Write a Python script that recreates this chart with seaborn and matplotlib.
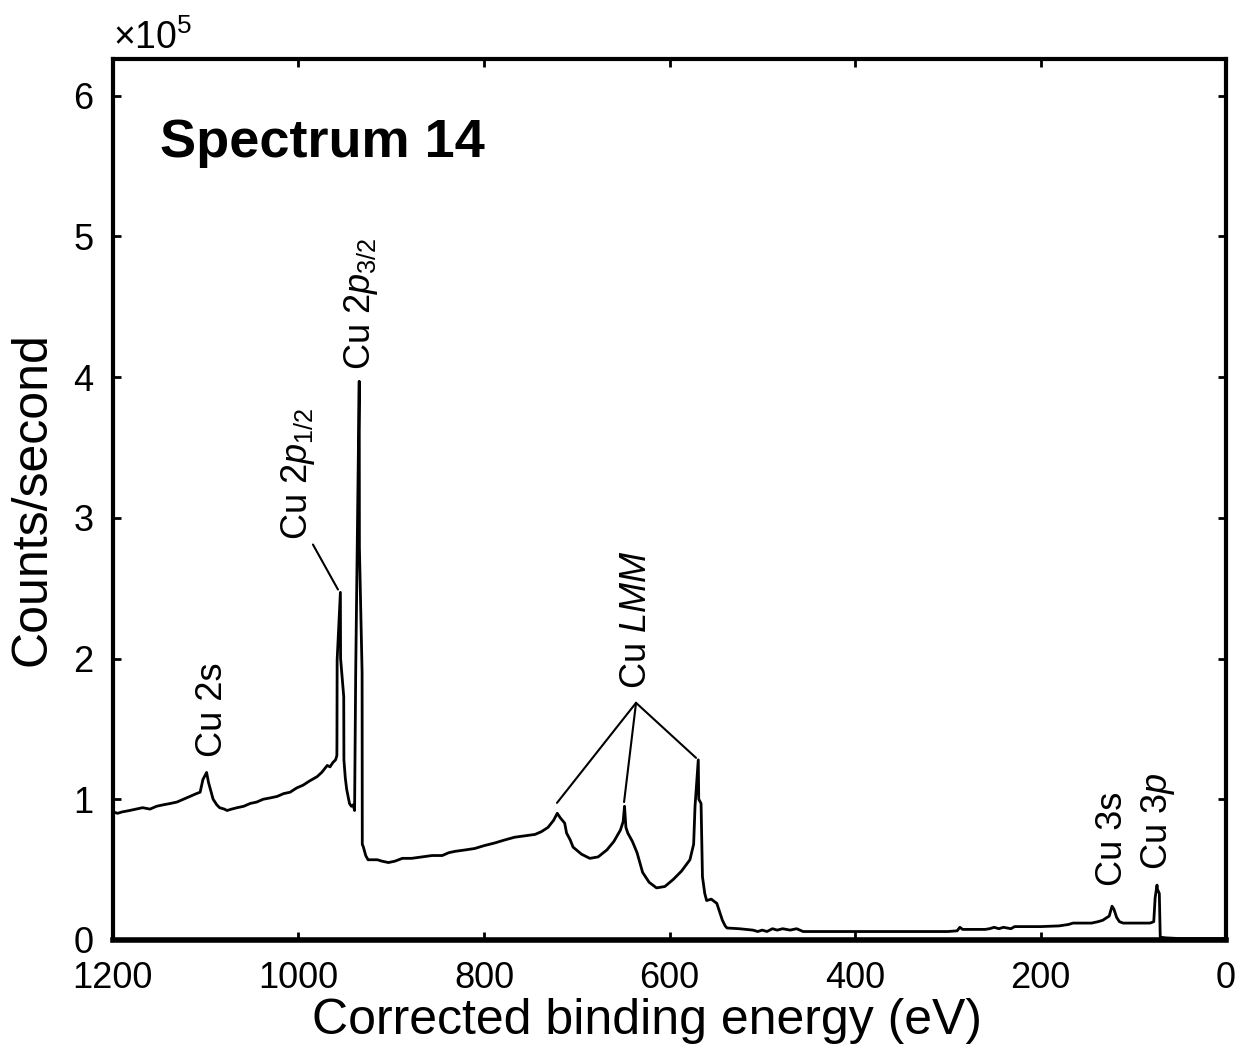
import matplotlib
matplotlib.use("Agg")
import matplotlib.pyplot as plt
import seaborn as sns
import pandas as pd

# Binding energy (eV) and counts/second (x 1e5)
energy = [1200, 1195, 1190, 1182, 1175, 1168, 1160, 1153, 1146, 1138, 1131, 1124, 1117, 1110,
          1106, 1103, 1099, 1097, 1092, 1088, 1085, 1080, 1077, 1072, 1066, 1059, 1052, 1045,
          1038, 1030, 1023, 1016, 1009, 1002, 995, 988, 980, 975, 969, 966, 963, 960,
          958.6, 958.5, 958.3, 954.8, 954.6, 951.2, 951.0, 949.5, 948, 946.5, 945, 943, 941,
          939.5, 938.3, 934.5, 934.3, 931.4, 931.2, 930, 927.5, 925, 915, 910, 903, 896, 888,
          878, 867, 856, 845, 838, 831, 820, 810, 800, 788, 778, 767, 756, 745, 738, 731, 725,
          721, 718, 713, 711, 707, 704, 695, 686, 677, 667.5, 660, 653, 650, 648.5, 647, 645,
          640, 635, 629, 622, 614, 605, 596, 587, 578, 574, 572.5, 569, 568.5, 566, 564.5, 562,
          560, 555, 549, 546, 543, 540, 538, 525, 510, 505, 500, 495, 489, 484, 478, 470, 463,
          456, 440, 400, 350, 300, 290, 287, 284, 260, 255, 250, 245, 240, 232, 228, 200, 180,
          170, 165, 145, 138, 133, 126, 123, 121, 118, 115, 111, 100, 90, 82, 78, 76.5, 74.5,
          74, 72, 71, 65, 50, 30, 0]
counts = [0.91, 0.90, 0.91, 0.92, 0.93, 0.94, 0.93, 0.95, 0.96, 0.97, 0.98, 1.00, 1.02, 1.04,
          1.05, 1.14, 1.19, 1.12, 1.00, 0.96, 0.94, 0.93, 0.92, 0.93, 0.94, 0.95, 0.97, 0.98,
          1.00, 1.01, 1.02, 1.04, 1.05, 1.08, 1.10, 1.13, 1.16, 1.19, 1.24, 1.23, 1.26, 1.28,
          1.31, 1.42, 1.99, 2.47, 2.00, 1.73, 1.28, 1.15, 1.07, 1.02, 0.97, 0.95, 0.96,
          0.92, 1.90, 3.97, 2.79, 1.90, 0.68, 0.66, 0.60, 0.57, 0.57, 0.56, 0.55, 0.56, 0.58,
          0.58, 0.59, 0.60, 0.60, 0.62, 0.63, 0.64, 0.65, 0.67, 0.69, 0.71, 0.73, 0.74, 0.75, 0.77, 0.80, 0.85,
          0.90, 0.87, 0.83, 0.76, 0.71, 0.66, 0.61, 0.58, 0.59, 0.64, 0.70, 0.78, 0.84, 0.95, 0.80, 0.76,
          0.70, 0.62, 0.48, 0.41, 0.37, 0.38, 0.43, 0.49, 0.57, 0.68, 0.95, 1.28, 1.00, 0.97, 0.45, 0.33,
          0.28, 0.29, 0.26, 0.20, 0.14, 0.10, 0.085, 0.08, 0.07, 0.06, 0.07, 0.06, 0.08, 0.07, 0.08, 0.07, 0.08,
          0.06, 0.06, 0.06, 0.06, 0.06, 0.065, 0.09, 0.075, 0.075, 0.08, 0.09, 0.08, 0.09, 0.08, 0.095, 0.095, 0.10,
          0.11, 0.12, 0.12, 0.13, 0.14, 0.17, 0.24, 0.22, 0.16, 0.13, 0.12, 0.12, 0.12, 0.12, 0.13, 0.30, 0.39,
          0.36, 0.33, 0.02, 0.015, 0.01, 0.01, 0.01]

x_ticks = [1200, 1000, 800, 600, 400, 200, 0]
y_ticks = [0, 1, 2, 3, 4, 5, 6]

df = pd.DataFrame({"energy": energy, "counts": counts})

sns.set_style("ticks")
plt.rcParams["font.family"] = ["Liberation Sans", "DejaVu Sans"]
plt.rcParams["mathtext.fontset"] = "custom"
plt.rcParams["mathtext.rm"] = "Liberation Sans"
plt.rcParams["mathtext.it"] = "Liberation Sans:italic"
plt.rcParams["mathtext.bf"] = "Liberation Sans:bold"
for k in ["text.color", "axes.labelcolor", "xtick.color", "ytick.color", "axes.edgecolor"]:
    plt.rcParams[k] = "black"

fig = plt.figure(figsize=(12.41, 10.59), dpi=100)
ax = fig.add_axes([0.091, 0.1124, 0.897, 0.8319])

sns.lineplot(data=df, x="energy", y="counts", sort=False, estimator=None,
             color="black", linewidth=2.0, ax=ax)

ax.set_xlim(1200, 0)
ax.set_ylim(0, 6.26)
ax.set_xticks(x_ticks)
ax.set_yticks(y_ticks)
ax.tick_params(direction="in", length=6, width=2, labelsize=26, top=True, right=True)
ax.tick_params(axis="x", pad=15)
ax.tick_params(axis="y", pad=14)
for s in ax.spines.values():
    s.set_linewidth(3)
    s.set_color("black")
ax.spines["bottom"].set_linewidth(4)

ax.set_xlabel("Corrected binding energy (eV)", fontsize=36)
ax.set_ylabel("Counts/second", fontsize=36)
ax.xaxis.set_label_coords(0.48, -0.066)
ax.yaxis.set_label_coords(-0.052, 0.5)

ax.text(0.0, 1.002, r"$\times$10$^5$", transform=ax.transAxes, fontsize=27,
        ha="left", va="bottom")
ax.text(0.042, 0.905, "Spectrum 14", transform=ax.transAxes, fontsize=39,
        fontweight="bold", ha="left", va="center")

lab = dict(rotation=90, ha="center", va="bottom", fontsize=26)
ax.text(1093, 1.30, "Cu 2s", **lab)
ax.text(1001, 2.84, r"Cu 2$\mathit{p}_{1/2}$", **lab)
ax.text(933, 4.05, r"Cu 2$\mathit{p}_{3/2}$", **lab)
ax.text(636, 1.78, r"Cu $\mathit{LMM}$", **lab)
ax.text(122, 0.38, "Cu 3s", **lab)
ax.text(73, 0.50, r"Cu 3$\mathit{p}$", **lab)

# leader lines
ax.plot([984.4, 957.4], [2.81, 2.49], color="black", lw=1.5)
apex = (636.1, 1.685)
for ex, ey in [(721.3, 0.974), (649, 0.98), (571.4, 1.294)]:
    ax.plot([apex[0], ex], [apex[1], ey], color="black", lw=1.5)

fig.savefig("out.png", dpi=100)
